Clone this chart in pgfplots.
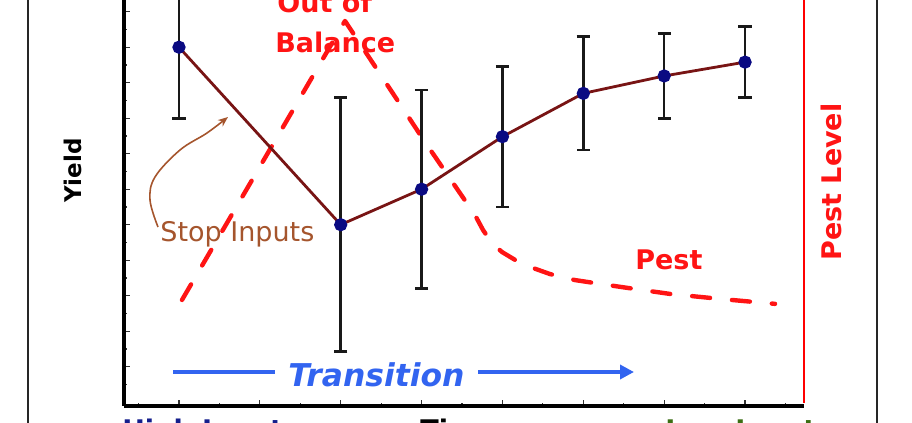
\documentclass[border=0pt]{standalone}
\usepackage{fontspec}
\setmainfont{DejaVu Sans}
\usepackage{pgfplots}
\usepackage{pgfplotstable}
\pgfplotsset{compat=1.18}
\usetikzlibrary{arrows.meta}
\definecolor{maroonline}{RGB}{120,20,20}
\definecolor{navypt}{RGB}{10,10,130}
\definecolor{pestred}{RGB}{255,20,20}
\definecolor{brownarrow}{RGB}{165,85,45}
\definecolor{transblue}{RGB}{50,100,240}
\definecolor{highblue}{RGB}{20,30,140}
\definecolor{lowgreen}{RGB}{60,110,20}

\pgfplotstableread{
x y err
1 10.0 2.0
3 5.0 3.58
4 6.0 2.8
5 7.48 1.98
6 8.70 1.6
7 9.19 1.19
8 9.58 1.0
}\yielddata

\pgfplotstableread{
x y
1.037 2.88
3.053 10.74
4.042 7.33
4.661 5.27
4.760 4.85
4.871 4.48
4.995 4.23
5.155 4.01
5.341 3.81
5.588 3.61
5.897 3.44
6.454 3.25
7.072 3.05
7.690 2.91
8.371 2.77
}\pestdata

\begin{document}
\begin{tikzpicture}[x=0.5pt,y=0.5pt]
\useasboundingbox (0,0) rectangle (912,423);
\clip (0,0) rectangle (912,423);
\begin{axis}[
  at={(62pt,8.5pt)}, anchor=south west,
  scale only axis, width=340pt, height=203pt,
  xmin=0.320, xmax=8.729, ymin=-0.107, ymax=11.33,
  axis x line*=bottom, axis y line*=left,
  axis line style={-, line width=1.6pt, black},
  xtick={1,...,8}, minor xtick={0.5,1.5,...,8.5},
  ytick={1,...,11}, minor ytick={0.5,1.5,...,11.5},
  xticklabels={}, yticklabels={},
  tick align=inside,
  major tick length=3pt, minor tick length=1.6pt,
  tick style={black!80, line width=0.6pt},
  clip=false,
]
\addplot[pestred, line width=2.2pt, dash pattern=on 9pt off 11pt, line cap=round, line join=round] table[x=x,y=y] {\pestdata};
\addplot[maroonline, line width=1.4pt, mark=*, mark size=2.6pt,
  mark options={navypt, fill=navypt, solid},
  error bars/.cd, y dir=both, y explicit,
  error bar style={black!90, line width=1.3pt},
  error mark options={rotate=90, black!90, mark size=3.3pt, line width=1.3pt}]
  table[x=x, y=y, y error=err] {\yielddata};
\draw[red, line width=1pt] (rel axis cs:1,0.008) -- (rel axis cs:1,1.05);
\end{axis}

% outer frame lines
\draw[line width=0.8pt, black!85] (28,-5) -- (28,430);
\draw[line width=0.8pt, black!85] (877,-5) -- (877,430);

% texts
\node[anchor=base west, text=pestred, font=\bfseries\fontsize{13.5}{16}\selectfont, inner sep=0] at (277,410) {Out of};
\node[anchor=base west, text=pestred, font=\bfseries\fontsize{13.5}{16}\selectfont, inner sep=0] at (275,370) {Balance};
\node[anchor=base west, text=brownarrow, font=\fontsize{13.5}{16}\selectfont, inner sep=0] at (160,181) {Stop Inputs};
\node[anchor=base west, text=pestred, font=\bfseries\fontsize{13.5}{16}\selectfont, inner sep=0] at (635,153) {Pest};
\node[rotate=90, text=pestred, font=\bfseries\fontsize{13.5}{16}\selectfont, inner sep=0] at (831,241) {Pest Level};
\node[rotate=90, font=\bfseries\fontsize{11.5}{14}\selectfont, inner sep=0] at (73,252.5) {Yield};
\node[anchor=base west, text=transblue, font=\bfseries\itshape\fontsize{15.7}{19}\selectfont, inner sep=0] at (288,36) {Transition};
\draw[transblue, line width=2pt] (173,51) -- (275,51);
\draw[transblue, line width=2pt, -{Triangle[length=7pt,width=7pt]}] (478,51) -- (634,51);

\node[anchor=base west, text=highblue, font=\bfseries\fontsize{13.5}{16}\selectfont, inner sep=0] at (122,-17) {High Input};
\node[anchor=base west, font=\bfseries\fontsize{13.5}{16}\selectfont, inner sep=0] at (420,-17) {Time};
\node[anchor=base west, text=lowgreen, font=\bfseries\fontsize{13.5}{16}\selectfont, inner sep=0] at (665,-17) {Low Input};

% brown curved arrow
\draw[brownarrow, line width=0.8pt, -{Stealth[length=5pt,width=4pt]}] plot[smooth, tension=0.6] coordinates {(158,196) (150,223) (155,246) (180,273) (207,290) (228,306)};
\end{tikzpicture}
\end{document}
